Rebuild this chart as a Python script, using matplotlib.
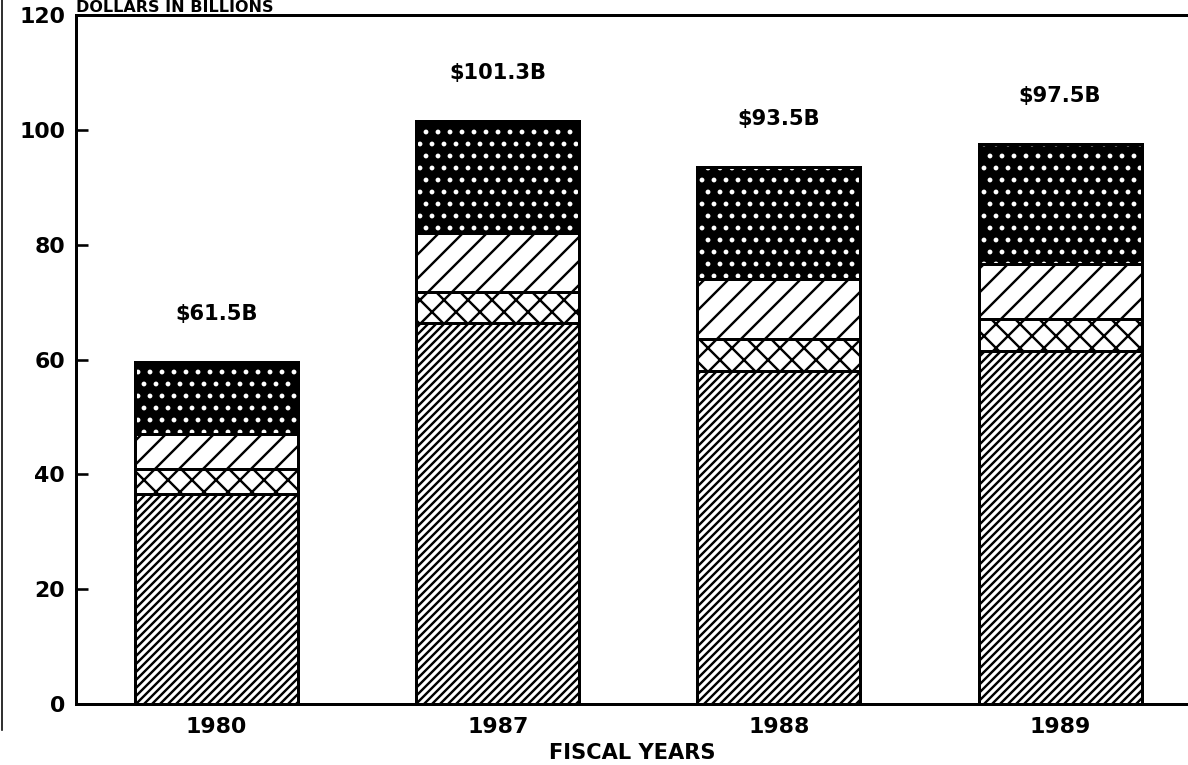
import matplotlib
matplotlib.use("Agg")
import matplotlib.pyplot as plt
import numpy as np
from matplotlib.lines import Line2D

# ---- data ----
years = ["1980", "1987", "1988", "1989"]
seg_bottom = [36.5, 66.3, 58.0, 61.5]     # dense diagonal hatch
seg_cross = [4.4, 5.5, 5.6, 5.5]          # cross hatch
seg_wide = [6.1, 10.2, 10.4, 9.6]         # wide diagonal hatch
seg_top = [12.5, 19.5, 19.6, 21.0]        # dark dotted
total_labels = [r"\$61.5B", r"\$101.3B", r"\$93.5B", r"\$97.5B"]
yticks = [0, 20, 40, 60, 80, 100, 120]

plt.rcParams['font.family'] = ['DejaVu Sans']
plt.rcParams['hatch.linewidth'] = 1.2

DPI = 144
fig = plt.figure(figsize=(1188 / DPI, 765 / DPI), dpi=DPI)
ax = fig.add_axes([76 / 1188, 61 / 765, 1 - 76 / 1188, (704 - 15) / 765])

x = np.arange(len(years))
w = 0.58
lw = 1.5

b1 = np.array(seg_bottom)
b2 = b1 + np.array(seg_cross)
b3 = b2 + np.array(seg_wide)
tops = b3 + np.array(seg_top)

ax.bar(x, seg_bottom, w, color='white', edgecolor='black', hatch='//////', linewidth=lw, zorder=2)
ax.bar(x, seg_cross, w, bottom=b1, color='white', edgecolor='black', hatch='xx', linewidth=lw, zorder=2)
ax.bar(x, seg_wide, w, bottom=b2, color='white', edgecolor='black', hatch='//', linewidth=lw, zorder=2)
ax.bar(x, seg_top, w, bottom=b3, color='black', edgecolor='white', hatch='..', linewidth=0, zorder=2)
ax.bar(x, seg_top, w, bottom=b3, fill=False, edgecolor='black', linewidth=lw, zorder=3)

for xi, t, lab in zip(x, tops, total_labels):
    ax.annotate(lab, (xi, t), xytext=(0, 24), textcoords='offset points',
                ha='center', va='center', fontsize=10.5, fontweight='bold')

ax.set_xlim(-0.5, 3.455)
ax.set_ylim(0, 120)
ax.set_yticks(yticks)
ax.set_xticks(x)
ax.set_xticklabels(years)

for s in ['left', 'bottom', 'top']:
    ax.spines[s].set_linewidth(1.5)
ax.spines['right'].set_visible(False)

ax.tick_params(axis='y', direction='in', length=6, width=1.3, pad=5.5, labelsize=11)
ax.tick_params(axis='x', length=0, pad=6.5, labelsize=11)
for lab in ax.get_xticklabels() + ax.get_yticklabels():
    lab.set_fontweight('bold')

ax.set_xlabel("FISCAL YEARS", fontsize=10.5, fontweight='bold', labelpad=3)

# title at the very top, just above the top spine
fig.text(76 / 1188, 1 - 12 / 765, "DOLLARS IN BILLIONS", fontsize=8, fontweight='bold',
         ha='left', va='baseline')

# scan border line at left edge
fig.add_artist(Line2D([2 / 1188, 2 / 1188], [35 / 765, 1.0], transform=fig.transFigure,
                      color='black', linewidth=0.8))

fig.savefig("out.png", dpi=DPI)
